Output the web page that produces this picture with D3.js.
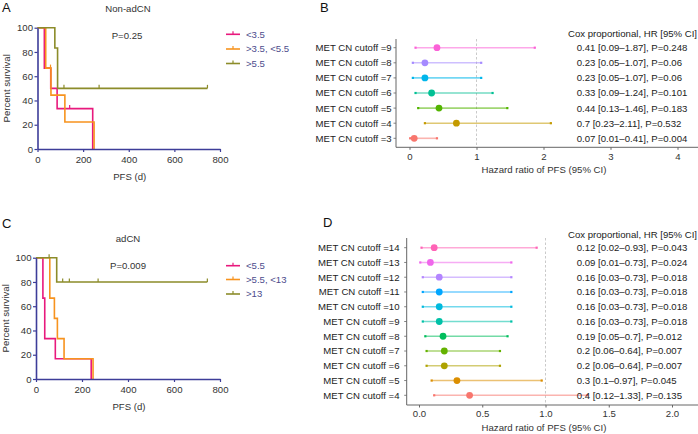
<!DOCTYPE html>
<html><head><meta charset="utf-8">
<script src="https://cdn.jsdelivr.net/npm/d3@7"></script>
<style>body{margin:0;background:#fff} text{font-family:"Liberation Sans",Arial,Helvetica,sans-serif}</style>
</head><body>
<svg id="c" width="698" height="434"></svg>
<script>
// ---------- DATA ----------
// Panel A (Non-adCN) Kaplan-Meier
const groupsA = ["<3.5", ">3.5, <5.5", ">5.5"];
const aTimes1 = [0, 30, 58, 86, 242], aSurv1 = [100, 66.7, 50, 33.3, 0], aCens1 = [141];
const aTimes2 = [0, 36, 59, 120, 248], aSurv2 = [100, 66.7, 44.4, 22.2, 0], aCens2 = [57];
const aTimes3 = [0, 76, 88], aSurv3 = [100, 83.3, 50], aCens3 = [116, 270, 745];
const pA = "P=0.25";
// Panel C (adCN) Kaplan-Meier
const groupsC = ["<5.5", ">5.5, <13", ">13"];
const cTimes1 = [0, 30, 38, 84, 240], cSurv1 = [100, 66.7, 33.3, 16.7, 0], cCens1 = [];
const cTimes2 = [0, 60, 80, 93, 122, 248], cSurv2 = [100, 66.7, 50, 33.3, 16.7, 0], cCens2 = [];
const cTimes3 = [0, 90], cSurv3 = [100, 80], cCens3 = [57, 116, 145, 270, 745];
const pC = "P=0.009";
const kmXTicks = [0, 200, 400, 600, 800];
const kmYTicks = [0, 20, 40, 60, 80, 100];

// Panel B forest
const cutoffsB = [9, 8, 7, 6, 5, 4, 3];
const hrB = [0.41, 0.23, 0.23, 0.33, 0.44, 0.7, 0.07];
const loB = [0.09, 0.05, 0.05, 0.09, 0.13, 0.23, 0.01];
const hiB = [1.87, 1.07, 1.07, 1.24, 1.46, 2.11, 0.41];
const pB = ["0.248", "0.06", "0.06", "0.101", "0.183", "0.532", "0.004"];
const xTicksB = [0, 1, 2, 3, 4];
// Panel D forest
const cutoffsD = [14, 13, 12, 11, 10, 9, 8, 7, 6, 5, 4];
const hrD = [0.12, 0.09, 0.16, 0.16, 0.16, 0.16, 0.19, 0.2, 0.2, 0.3, 0.4];
const loD = [0.02, 0.01, 0.03, 0.03, 0.03, 0.03, 0.05, 0.06, 0.06, 0.1, 0.12];
const hiD = [0.93, 0.73, 0.73, 0.73, 0.73, 0.73, 0.7, 0.64, 0.64, 0.97, 1.33];
const pD = ["0.043", "0.024", "0.018", "0.018", "0.018", "0.018", "0.012", "0.007", "0.007", "0.045", "0.135"];
const xTicksD = [0, 0.5, 1, 1.5, 2];

// ---------- STYLE ----------
const kmColors = ["#e8197d", "#f7931e", "#8c8c2a"];
const axisBlue = "#3d3d99";
const FS = 9.6;
const svg = d3.select("#c");

function panelLetter(t, x, y) {
  svg.append("text").attr("x", x).attr("y", y).attr("font-size", 13).attr("fill", "#111").text(t);
}

function kmPanel(o) {
  const g = svg.append("g");
  const x = d3.scaleLinear([0, 800], [o.x0, o.x1]);
  const y = d3.scaleLinear([0, 100], [o.yb, o.yt]);
  const line = d3.line().x(d => x(d[0])).y(d => y(d[1])).curve(d3.curveStepAfter);
  o.series.forEach((s, i) => {
    const pts = s.t.map((t, j) => [t, s.s[j]]);
    const endT = Math.max(s.t[s.t.length - 1], ...(s.c.length ? s.c : [0]));
    pts.push([endT, s.s[s.s.length - 1]]);
    g.append("path").attr("d", line(pts)).attr("fill", "none")
      .attr("stroke", kmColors[i]).attr("stroke-width", 1.6);
    s.c.forEach(ct => {
      let sv = s.s[0];
      s.t.forEach((t, j) => { if (t <= ct) sv = s.s[j]; });
      g.append("line").attr("x1", x(ct)).attr("x2", x(ct))
        .attr("y1", y(sv) - 3.5).attr("y2", y(sv))
        .attr("stroke", kmColors[i]).attr("stroke-width", 1.2);
    });
  });
  const ax = g.append("g").attr("transform", `translate(0,${o.yb})`)
    .call(d3.axisBottom(x).tickValues(kmXTicks).tickSize(3).tickSizeOuter(0).tickPadding(4));
  const ay = g.append("g").attr("transform", `translate(${o.x0},0)`)
    .call(d3.axisLeft(y).tickValues(kmYTicks).tickSize(3).tickSizeOuter(0).tickPadding(1.5));
  [ax, ay].forEach(a => {
    a.select(".domain").attr("stroke", axisBlue).attr("stroke-width", 1.6);
    a.selectAll(".tick line").attr("stroke", axisBlue).attr("stroke-width", 1.2);
    a.selectAll("text").attr("font-size", FS).attr("fill", "#333")
      .attr("font-family", '"Liberation Sans",Arial,sans-serif');
  });
  g.append("text").attr("x", (o.x0 + o.x1) / 2 + 1).attr("y", o.yb + 30.5).attr("text-anchor", "middle")
    .attr("font-size", FS).attr("fill", "#333").text("PFS (d)");
  g.append("text").attr("transform", `translate(${o.x0 - 27.5},${(o.yt + o.yb) / 2}) rotate(-90)`)
    .attr("text-anchor", "middle").attr("font-size", FS).attr("fill", "#333").text("Percent survival");
  g.append("text").attr("x", 128).attr("y", o.yt - 15.5).attr("text-anchor", "middle")
    .attr("font-size", FS).attr("fill", "#333").text(o.title);
  g.append("text").attr("x", o.px).attr("y", o.yt + 11.5)
    .attr("font-size", FS).attr("fill", "#333").text(o.p);
  o.groups.forEach((name, i) => {
    const ly = o.legY[i];
    g.append("line").attr("x1", 226).attr("x2", 240).attr("y1", ly).attr("y2", ly)
      .attr("stroke", kmColors[i]).attr("stroke-width", 1.6);
    g.append("line").attr("x1", 233).attr("x2", 233).attr("y1", ly - 3).attr("y2", ly)
      .attr("stroke", kmColors[i]).attr("stroke-width", 1.2);
    g.append("text").attr("x", 246).attr("y", ly).attr("dy", "0.36em")
      .attr("font-size", FS).attr("fill", "#4c4c8c").text(name);
  });
}

function forestPanel(o) {
  const g = svg.append("g");
  const x = d3.scaleLinear(o.xdom, o.xr);
  const y = d3.scalePoint(o.cut, [o.r0, o.r1]);
  // dashed ref line
  g.append("line").attr("x1", x(1)).attr("x2", x(1)).attr("y1", o.top).attr("y2", o.bot)
    .attr("stroke", "#c4c4c4").attr("stroke-width", 0.9).attr("stroke-dasharray", "2.5,2");
  o.cut.forEach((c, i) => {
    const col = o.colors[i], yy = y(c);
    g.append("line").attr("x1", x(o.lo[i])).attr("x2", x(o.hi[i])).attr("y1", yy).attr("y2", yy)
      .attr("stroke", col).attr("stroke-width", 1.6).attr("stroke-opacity", 0.55);
    [o.lo[i], o.hi[i]].forEach(v => g.append("rect").attr("x", x(v) - 1.1).attr("y", yy - 1.1)
      .attr("width", 2.2).attr("height", 2.2).attr("fill", col));
    g.append("circle").attr("cx", x(o.hr[i])).attr("cy", yy).attr("r", 3.4).attr("fill", col);
    g.append("text").attr("x", o.labX).attr("y", yy).attr("dy", "0.36em").attr("text-anchor", "end")
      .attr("font-size", FS).attr("fill", "#222").text("MET CN cutoff =" + c);
    g.append("text").attr("x", 576.7).attr("y", yy).attr("dy", "0.36em")
      .attr("font-size", FS).attr("fill", "#222")
      .text(`${o.hr[i]} [${o.lo[i]}\u2013${o.hi[i]}], P=${o.p[i]}`);
    g.append("line").attr("x1", o.ax - 2.5).attr("x2", o.ax).attr("y1", yy).attr("y2", yy)
      .attr("stroke", "#666").attr("stroke-width", 0.8);
  });
  // axes
  g.append("line").attr("x1", o.ax).attr("x2", o.ax).attr("y1", o.top).attr("y2", o.bot)
    .attr("stroke", "#666").attr("stroke-width", 1);
  const axb = g.append("g").attr("transform", `translate(0,${o.bot})`)
    .call(d3.axisBottom(x).tickValues(o.ticks).tickFormat(o.fmt).tickSize(2.5).tickSizeOuter(0).tickPadding(3));
  axb.select(".domain").remove();
  g.append("line").attr("x1", o.ax).attr("x2", 698).attr("y1", o.bot).attr("y2", o.bot)
    .attr("stroke", "#666").attr("stroke-width", 1);
  axb.selectAll(".tick line").attr("stroke", "#666");
  axb.selectAll("text").attr("font-size", FS).attr("fill", "#333")
    .attr("font-family", '"Liberation Sans",Arial,sans-serif');
  g.append("text").attr("x", 544).attr("y", o.bot + 25.5).attr("text-anchor", "middle")
    .attr("font-size", FS).attr("fill", "#333").text("Hazard ratio of PFS (95% CI)");
  g.append("text").attr("x", 568).attr("y", o.hdrY).attr("font-size", FS).attr("fill", "#222")
    .text("Cox proportional, HR [95% CI]");
}

// ---------- DRAW ----------
panelLetter("A", 2, 12);
panelLetter("B", 320, 12);
panelLetter("C", 2, 228);
panelLetter("D", 323, 227);

kmPanel({
  x0: 37.5, x1: 220, yt: 27.7, yb: 149, title: "Non-adCN", p: pA, px: 111.7,
  groups: groupsA, legY: [34.3, 49, 63.5],
  series: [{t: aTimes1, s: aSurv1, c: aCens1}, {t: aTimes2, s: aSurv2, c: aCens2}, {t: aTimes3, s: aSurv3, c: aCens3}]
});
kmPanel({
  x0: 36, x1: 220, yt: 257.7, yb: 379, title: "adCN", p: pC, px: 110,
  groups: groupsC, legY: [265.7, 279.5, 294],
  series: [{t: cTimes1, s: cSurv1, c: cCens1}, {t: cTimes2, s: cSurv2, c: cCens2}, {t: cTimes3, s: cSurv3, c: cCens3}]
});

const hueB = ["#FB61D7", "#A58AFF", "#00B6EB", "#00C094", "#53B400", "#C49A00", "#F8766D"];
const hueD = ["#FF63B6", "#EF67EB", "#B385FF", "#00A6FF", "#00BADE", "#00C1A7", "#00BD5C", "#64B200", "#AEA200", "#DB8E00", "#F8766D"];

forestPanel({
  xdom: [0, 4], xr: [409.5, 677.5], cut: cutoffsB, r0: 47.7, r1: 138.3, top: 39, bot: 147.3, ax: 396,
  hr: hrB, lo: loB, hi: hiB, p: pB, colors: hueB, labX: 391.7, ticks: xTicksB, fmt: d3.format("d"), hdrY: 36.8
});
forestPanel({
  xdom: [0, 2], xr: [419, 672], cut: cutoffsD, r0: 247.7, r1: 395.3, top: 238, bot: 405, ax: 406.7,
  hr: hrD, lo: loD, hi: hiD, p: pD, colors: hueD, labX: 399.5, ticks: xTicksD, fmt: d3.format(".1f"), hdrY: 237.5
});
</script>
</body></html>
